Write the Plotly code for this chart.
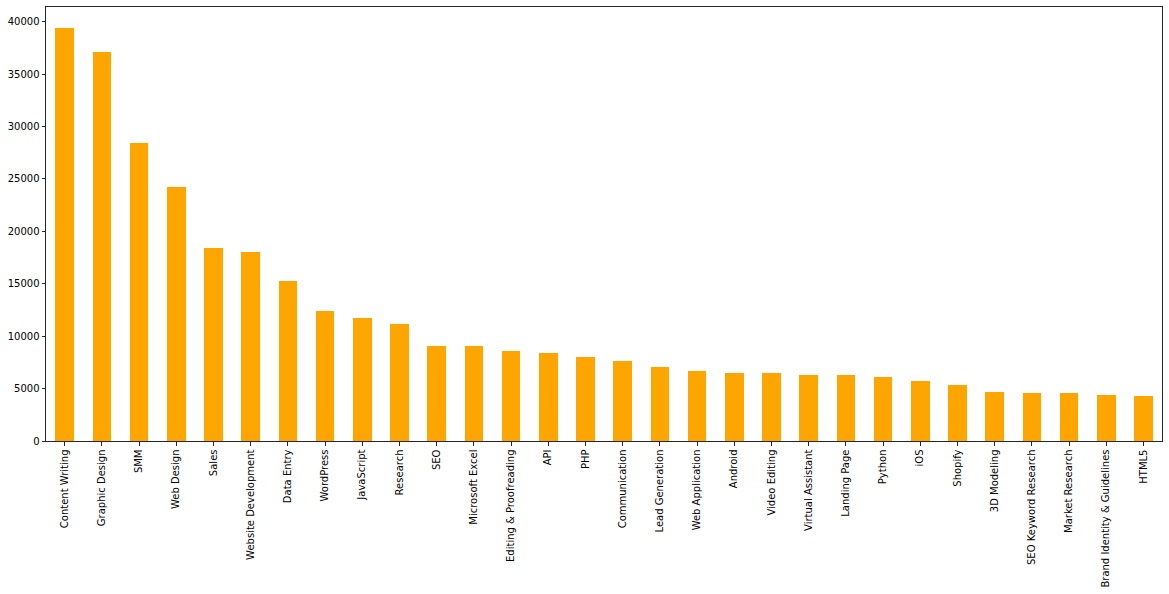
import plotly.graph_objects as go

# skill counts
skills = [
    "Content Writing", "Graphic Design", "SMM", "Web Design", "Sales",
    "Website Development", "Data Entry", "WordPress", "JavaScript", "Research",
    "SEO", "Microsoft Excel", "Editing & Proofreading", "API", "PHP",
    "Communication", "Lead Generation", "Web Application", "Android", "Video Editing",
    "Virtual Assistant", "Landing Page", "Python", "iOS", "Shopify",
    "3D Modeling", "SEO Keyword Research", "Market Research",
    "Brand Identity & Guidelines", "HTML5",
]
counts = [
    39430, 37150, 28400, 24220, 18420,
    18040, 15280, 12430, 11760, 11190,
    9100, 9100, 8620, 8430, 8050,
    7670, 7100, 6720, 6530, 6440,
    6250, 6250, 6150, 5770, 5390,
    4630, 4540, 4540, 4350, 4250,
]
yticks = [0, 5000, 10000, 15000, 20000, 25000, 30000, 35000, 40000]

fig = go.Figure(go.Bar(
    x=list(range(len(skills))),
    y=counts,
    width=0.5,
    marker=dict(color="#FFA500", line=dict(width=0)),
))

axis_style = dict(
    showline=True, mirror=True, linecolor="#262626", linewidth=1,
    ticks="outside", ticklen=3.5, tickwidth=1, tickcolor="#262626",
    showgrid=False, zeroline=False,
    tickfont=dict(family="DejaVu Sans", size=10, color="black"),
)

fig.update_xaxes(
    tickmode="array",
    tickvals=list(range(len(skills))),
    ticktext=skills,
    tickangle=-90,
    range=[-0.5, len(skills) - 0.5],
    **axis_style,
)
fig.update_yaxes(
    tickmode="array",
    tickvals=yticks,
    ticktext=[str(v) for v in yticks],
    range=[0, max(counts) * 1.05],
    **axis_style,
)

fig.update_layout(
    width=1169, height=594,
    margin=dict(l=46, r=7, t=7, b=153, autoexpand=False),
    plot_bgcolor="white", paper_bgcolor="white",
    showlegend=False,
    bargap=0,
)

# drop the default body margin so the figure sits at the window's corner
fig.write_html(
    "out.html",
    config={"displayModeBar": False},
    post_script="document.body.style.margin='0';",
)
